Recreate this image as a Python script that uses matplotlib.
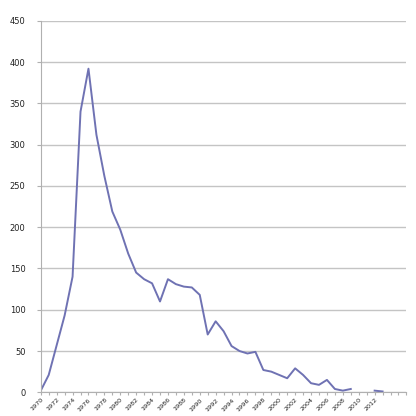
import numpy as np
import matplotlib.pyplot as plt

# yearly counts (nan = no data)
years = list(range(1970, 2014))
counts = [2, 21, 57, 93, 140, 340, 392, 312, 262, 219,
          197, 168, 145, 137, 132, 110, 137, 131, 128, 127,
          118, 70, 86, 74, 56, 50, 47, 49, 27, 25,
          21, 17, 29, 21, 11, 9, 15, 4, 2, 4,
          np.nan, np.nan, 2, 1]
label_years = list(range(1970, 2013, 2))
y_ticks = list(range(0, 451, 50))

fig = plt.figure(figsize=(4.16, 4.16), dpi=100)
ax = fig.add_axes([0.098, 0.057, 0.879, 0.893])

ax.plot(years, counts, color='#6f72b3', linewidth=1.4)

ax.set_xlim(1970, 2016)
ax.set_ylim(0, 450)
ax.set_yticks(y_ticks)
ax.set_yticklabels([str(v) for v in y_ticks], fontsize=6, color='#222222')
ax.set_xticks(range(1970, 2017))
ax.set_xticklabels([str(y) if y in label_years else '' for y in range(1970, 2017)],
                   rotation=45, ha='right', rotation_mode='anchor',
                   fontsize=4.6, color='#222222')

ax.grid(axis='y', color='#c4c4c4', linewidth=1)
ax.set_axisbelow(True)
for side in ['top', 'right']:
    ax.spines[side].set_visible(False)
for side in ['left', 'bottom']:
    ax.spines[side].set_color('#b0b0b0')
ax.tick_params(axis='both', color='#b0b0b0', length=3, width=0.8)
ax.tick_params(axis='x', pad=1, length=2.5)
ax.tick_params(axis='y', pad=8)

fig.savefig('out.png', dpi=100)
